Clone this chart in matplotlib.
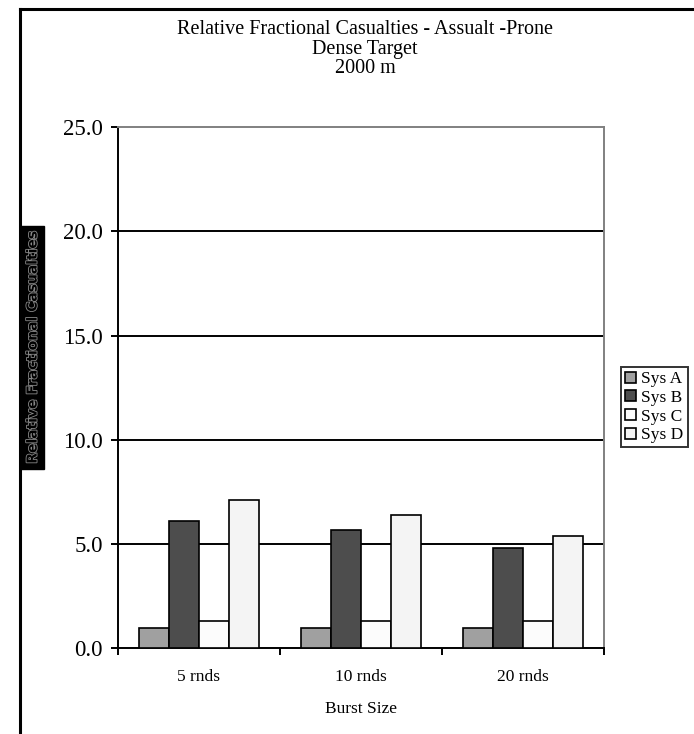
import matplotlib.pyplot as plt
import matplotlib.patheffects as pe
import numpy as np
from matplotlib.lines import Line2D

# data
categories = ["5 rnds", "10 rnds", "20 rnds"]
series = ["Sys A", "Sys B", "Sys C", "Sys D"]
sys_a = [1.0, 1.0, 1.0]
sys_b = [6.1, 5.7, 4.8]
sys_c = [1.3, 1.3, 1.3]
sys_d = [7.1, 6.4, 5.4]
yticks = [0.0, 5.0, 10.0, 15.0, 20.0, 25.0]

colors = ["#a0a0a0", "#4d4d4d", "#fcfcfc", "#f4f4f4"]
serif = ["Liberation Serif", "DejaVu Serif"]

fig = plt.figure(figsize=(6.94, 7.34), dpi=100)
ax = fig.add_axes([0.170, 0.1165, 0.700, 0.7105])

x = np.arange(len(categories))
w = 0.185
for i, (vals, c, name) in enumerate(zip([sys_a, sys_b, sys_c, sys_d], colors, series)):
    ax.bar(x + (i - 1.5) * w, vals, w, color=c, edgecolor="black", linewidth=1.2,
           label=name, zorder=3)

ax.set_xlim(-0.5, 2.5)
ax.set_ylim(0, 25)
ax.set_yticks(yticks)
ax.set_yticklabels([f"{v:.1f}" for v in yticks], family=serif, fontsize=16.5)
for v in yticks[1:-1]:
    ax.axhline(v, color="black", lw=1.4, zorder=1)

# x ticks sit between categories, labels under the categories
ax.set_xticks(x)
ax.set_xticklabels(categories, family=serif, fontsize=12.5)
ax.set_xticks(np.arange(-0.5, 3.0, 1.0), minor=True)
ax.tick_params(axis="x", which="major", length=0, pad=15)
ax.tick_params(axis="x", which="minor", length=5, width=1.4, direction="out")
ax.tick_params(axis="y", length=5, width=1.4, direction="out", pad=6)

ax.spines["left"].set_linewidth(1.4)
ax.spines["bottom"].set_linewidth(1.4)
ax.spines["top"].set_color("#808080")
ax.spines["right"].set_color("#808080")
ax.spines["top"].set_linewidth(1.4)
ax.spines["right"].set_linewidth(1.4)

ax.set_xlabel("Burst Size", family=serif, fontsize=12.5, labelpad=11)

fig.text(0.526, 0.9725, "Relative Fractional Casualties - Assualt -Prone\nDense Target\n2000 m",
         ha="center", va="top", family=serif, fontsize=14.5, linespacing=1.03)

# y label: black box with outlined text
fig.text(0.047, 0.527, "Relative Fractional Casualties", rotation=90, ha="center", va="center",
         fontsize=10, fontweight="bold", family="DejaVu Sans", color="black",
         path_effects=[pe.withStroke(linewidth=1.2, foreground="#8a8a8a")],
         bbox=dict(boxstyle="square,pad=0.35", facecolor="black", edgecolor="black"))

leg = fig.legend(loc="upper left", bbox_to_anchor=(0.895, 0.500), prop={"family": serif, "size": 12.5},
                 frameon=True, fancybox=False, edgecolor="black", handlelength=0.6, handleheight=0.6,
                 handletextpad=0.3, borderpad=0.25, labelspacing=0.15, borderaxespad=0)
leg.get_frame().set_linewidth(1.4)

# outer frame (left and top edges only)
fig.add_artist(Line2D([0.029, 0.029], [0.0, 0.988], color="black", lw=2.2, transform=fig.transFigure))
fig.add_artist(Line2D([0.029, 1.0], [0.988, 0.988], color="black", lw=2.2, transform=fig.transFigure))

fig.savefig("out.png", dpi=100)
